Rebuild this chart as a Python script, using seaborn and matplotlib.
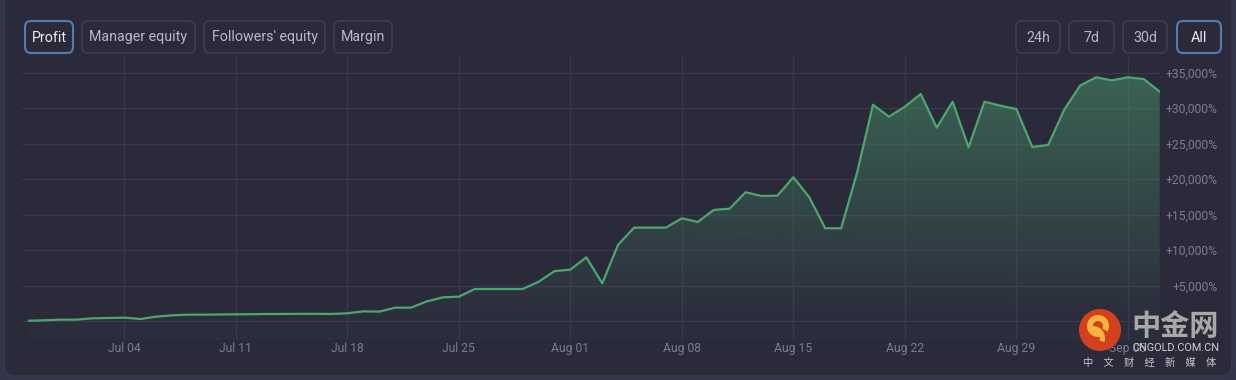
import numpy as np
import pandas as pd
import seaborn as sns
import matplotlib.pyplot as plt
from matplotlib import dates as mdates
from matplotlib.patches import FancyBboxPatch, Circle, Wedge

# daily profit (%), Jun 28 -> Sep 07
start_date = "2021-06-28"
profit = [40, 100, 190, 190, 380, 420, 470, 280, 610, 800,
          890, 890, 920, 940, 960, 990, 990, 1010, 1010, 990,
          1080, 1360, 1320, 1880, 1880, 2770, 3330, 3430, 4510, 4510,
          4510, 4510, 5520, 7030, 7240, 8980, 5310, 10760, 13160, 13160,
          13160, 14480, 13960, 15650, 15830, 18150, 17620, 17670, 20260, 17440,
          13070, 13070, 20900, 30490, 28800, 30210, 32000, 27250, 30910, 24480,
          30910, 30350, 29880, 24530, 24810, 29750, 33170, 34350, 33920, 34350,
          34110, 32330]

tick_dates = ["2021-07-04", "2021-07-11", "2021-07-18", "2021-07-25", "2021-08-01",
              "2021-08-08", "2021-08-15", "2021-08-22", "2021-08-29", "2021-09-05"]
tick_labels = ["Jul 04", "Jul 11", "Jul 18", "Jul 25", "Aug 01",
               "Aug 08", "Aug 15", "Aug 22", "Aug 29", "Sep 05"]
y_ticks = [0, 5000, 10000, 15000, 20000, 25000, 30000, 35000]
y_labels = ["", "+5,000%", "+10,000%", "+15,000%", "+20,000%", "+25,000%", "+30,000%", "+35,000%"]

left_buttons = ["Profit", "Manager equity", "Followers' equity", "Margin"]
right_buttons = ["24h", "7d", "30d", "All"]

df = pd.DataFrame({"date": pd.date_range(start_date, periods=len(profit), freq="D"),
                   "profit": profit})

sns.set_style("dark")
plt.rcParams['font.family'] = ['Roboto', 'Noto Sans CJK SC', 'DejaVu Sans']

W, H = 1236, 380
BG_OUT = '#34344a'
CARD = '#2b2a3b'
GRID = '#383849'
GREEN = '#4ca76c'
LABEL = '#7c7c8b'

fig = plt.figure(figsize=(W / 100, H / 100), dpi=100, facecolor=BG_OUT)

# background layer in pixel coords (card + buttons)
bg = fig.add_axes([0, 0, 1, 1], zorder=0)
bg.set_xlim(0, W)
bg.set_ylim(H, 0)
bg.axis('off')
bg.add_patch(FancyBboxPatch((4, -20), 1228, 396, boxstyle="round,pad=0,rounding_size=12",
                            fc=CARD, ec='#3a3a4d', lw=1))

lb_x = [(25, 73), (82, 195), (204, 325), (334, 392)]
rb_x = [(1016, 1060), (1069, 1114), (1123, 1167), (1177, 1221)]
for (x0, x1), name in zip(lb_x + rb_x, left_buttons + right_buttons):
    sel = name in ("Profit", "All")
    bg.add_patch(FancyBboxPatch((x0, 21), x1 - x0, 32, boxstyle="round,pad=0,rounding_size=6",
                                fc=CARD, ec='#4f7fb0' if sel else '#414152', lw=1.5 if sel else 1))
    bg.text((x0 + x1) / 2, 37.5, name, ha='center', va='center', fontsize=10.3,
            color='#ececf2' if sel else '#b9b9c6')

# chart
ax = fig.add_axes([22 / W, 1 - 340 / H, (1160 - 22) / W, (340 - 57) / H], zorder=1)
ax.set_facecolor('none')

sns.lineplot(data=df, x="date", y="profit", ax=ax, color=GREEN, linewidth=1.6, zorder=3)

x0 = mdates.date2num(df["date"].iloc[0]) - 0.43
x1 = mdates.date2num(df["date"].iloc[-1]) + 0.02
ymin, ymax = -2680, 37215
ax.set_xlim(x0, x1)
ax.set_ylim(ymin, ymax)

# gradient area under the line
poly = ax.fill_between(df["date"], df["profit"], ymin, color='none', lw=0)
yy = np.linspace(ymin, ymax, 256)
alpha = np.clip((yy - 0) / 35000, 0, 1) * 0.5 + 0.03
grad = np.zeros((256, 1, 4))
grad[:, 0, 0] = 72 / 255
grad[:, 0, 1] = 150 / 255
grad[:, 0, 2] = 105 / 255
grad[:, 0, 3] = alpha
im = ax.imshow(grad, extent=[x0, x1, ymin, ymax], aspect='auto', origin='lower', zorder=2)
im.set_clip_path(poly.get_paths()[0], transform=ax.transData)

ax.set_xticks(pd.to_datetime(tick_dates))
ax.set_xticklabels(tick_labels)
ax.set_yticks(y_ticks)
ax.set_yticklabels(y_labels)
ax.yaxis.tick_right()
for lab in ax.get_yticklabels():
    lab.set_horizontalalignment('right')
ax.tick_params(axis='y', length=0, pad=41.5, labelsize=8.7, labelcolor=LABEL)
ax.tick_params(axis='x', length=0, pad=1.5, labelsize=8.7, labelcolor=LABEL)
ax.grid(True, color=GRID, linewidth=1)
ax.set_xlabel("")
ax.set_ylabel("")
for s in ax.spines.values():
    s.set_visible(False)

# watermark on top
fg = fig.add_axes([0, 0, 1, 1], zorder=5)
fg.set_xlim(0, W)
fg.set_ylim(H, 0)
fg.axis('off')
fg.set_facecolor('none')
fg.add_patch(Circle((1100, 330), 21, fc='#d2401f', ec='none'))
# yellow swirl, roughly
fg.add_patch(Wedge((1098, 326), 11, 60, 390, width=6, fc='#f4b43e', ec='none'))
fg.add_patch(Wedge((1093, 338), 12, 270, 20, width=5, fc='#f4b43e', ec='none'))
fg.text(1175, 326, "中金网", ha='center', va='center', fontsize=21, fontweight='bold',
        color='#a8a8a8', family=['Noto Sans CJK SC', 'DejaVu Sans'])
fg.text(1176, 348, "CNGOLD.COM.CN", ha='center', va='center', fontsize=7.8,
        color='#d0d0d0', family=['Roboto', 'DejaVu Sans'])
fg.text(1150, 363, "中\u3000文\u3000财\u3000经\u3000新\u3000媒\u3000体", ha='center', va='center',
        fontsize=7.4, color='#c8c8c8', family=['Noto Sans CJK SC', 'DejaVu Sans'])

plt.savefig('out.png', dpi=100, facecolor=BG_OUT)
